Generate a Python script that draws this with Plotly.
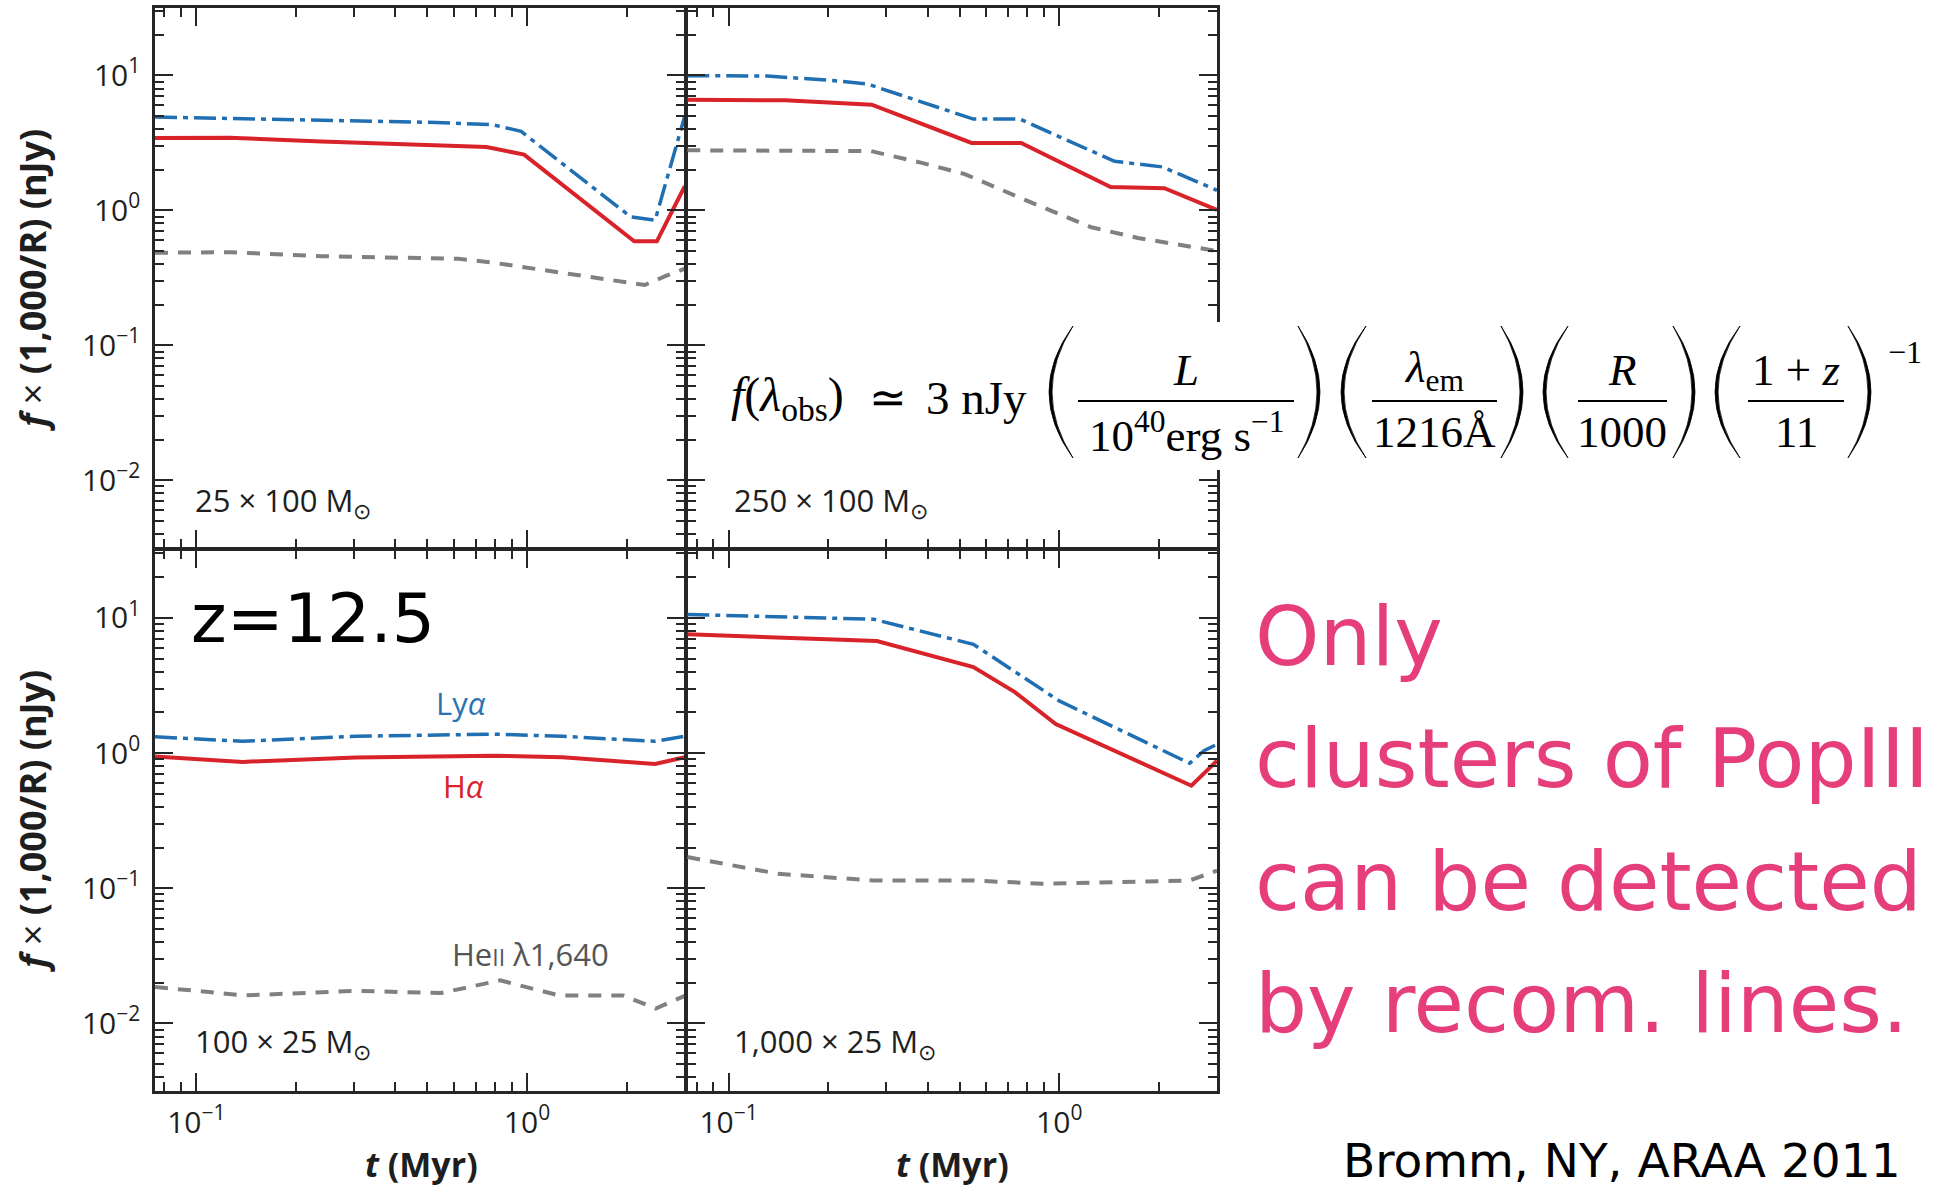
import plotly.graph_objects as go

W, H = 1951, 1190

# ---------------- data: t (Myr) vs f x (1,000/R) (nJy) ----------------
# panel 1 : 25 x 100 Msun
t_lya_1 = [0.075, 0.24, 0.53, 0.79, 0.96, 2.06, 2.44, 3.0]
lya_1 = [4.92, 4.70, 4.49, 4.31, 3.85, 0.895, 0.845, 5.0]
t_ha_1 = [0.075, 0.126, 0.239, 0.406, 0.755, 0.98, 2.11, 2.47, 3.0]
ha_1 = [3.44, 3.46, 3.24, 3.12, 2.95, 2.59, 0.59, 0.59, 1.51]
t_he_1 = [0.075, 0.126, 0.239, 0.62, 0.79, 1.0, 1.63, 2.27, 2.62, 3.0]
he_1 = [0.485, 0.49, 0.458, 0.438, 0.41, 0.376, 0.317, 0.28, 0.326, 0.37]

# panel 2 : 250 x 100 Msun
t_lya_2 = [0.075, 0.131, 0.206, 0.262, 0.55, 0.76, 1.47, 2.05, 3.0]
lya_2 = [9.97, 9.9, 9.17, 8.67, 4.75, 4.75, 2.31, 2.10, 1.41]
t_ha_2 = [0.075, 0.148, 0.271, 0.543, 0.767, 1.43, 2.08, 3.0]
ha_2 = [6.61, 6.55, 6.07, 3.16, 3.16, 1.49, 1.46, 1.01]
t_he_2 = [0.075, 0.27, 0.384, 0.518, 0.805, 1.25, 1.73, 2.73, 3.0]
he_2 = [2.79, 2.75, 2.25, 1.86, 1.17, 0.75, 0.625, 0.52, 0.50]

# panel 3 : 100 x 25 Msun
t_lya_3 = [0.075, 0.138, 0.304, 0.62, 0.79, 1.28, 2.44, 3.0]
lya_3 = [1.32, 1.22, 1.33, 1.38, 1.38, 1.33, 1.22, 1.33]
t_ha_3 = [0.075, 0.138, 0.304, 0.79, 1.28, 2.44, 3.0]
ha_3 = [0.944, 0.86, 0.927, 0.955, 0.93, 0.83, 0.93]
t_he_3 = [0.075, 0.14, 0.3, 0.55, 0.83, 1.25, 1.95, 2.45, 3.0]
he_3 = [0.0186, 0.0161, 0.0174, 0.0168, 0.0208, 0.0161, 0.0161, 0.0129, 0.016]

# panel 4 : 1,000 x 25 Msun
t_lya_4 = [0.075, 0.275, 0.55, 1.0, 2.48, 2.74, 3.0]
lya_4 = [10.6, 9.75, 6.37, 2.43, 0.84, 1.04, 1.16]
t_ha_4 = [0.075, 0.281, 0.55, 0.73, 0.976, 2.51, 3.0]
ha_4 = [7.55, 6.73, 4.33, 2.85, 1.64, 0.573, 0.877]
t_he_4 = [0.075, 0.141, 0.275, 0.55, 0.887, 2.48, 3.0]
he_4 = [0.17, 0.128, 0.114, 0.114, 0.108, 0.114, 0.135]

panel_labels = ["25 × 100 M<sub>⊙</sub>", "250 × 100 M<sub>⊙</sub>",
                "100 × 25 M<sub>⊙</sub>", "1,000 × 25 M<sub>⊙</sub>"]

x_tickvals = [0.1, 1]
x_ticktext = ["10<sup>−1</sup>", "10<sup>0</sup>"]
y_tickvals = [0.01, 0.1, 1, 10]
y_ticktext = ["10<sup>−2</sup>", "10<sup>−1</sup>", "10<sup>0</sup>", "10<sup>1</sup>"]

X_RANGE = [-1.125, 0.4771]   # log10(t)
Y_RANGE = [-2.5, 1.5]        # log10(flux)

# ---------------- helpers: pixel -> paper ----------------
def px(x):
    return x / W


def py(y):
    return 1 - y / H


AX = "#262626"
LW = 2.5
TICK_FONT = dict(family="Open Sans", size=30, color="#1e1e1e")
LYA = dict(color="#1f6fb2", width=3.5, dash="22px,6px,5px,6px")
HA = dict(color="#d8232a", width=4)
HE = dict(color="#808080", width=4, dash="13px,10px")

x_minor = [k * 0.01 for k in (8, 9)] + [k * 0.1 for k in range(2, 10)] + [2.0]
y_minor = [k * 10.0 ** e for e in range(-3, 2) for k in range(2, 10)]

# panel boxes in pixels (shared edges pulled in by half a frame line so that
# neighbouring frame lines fall on top of each other)
X_BOX = [(155, 686 - LW / 2), (686 + LW / 2, 1217)]
Y_BOX = [(8, 549 - LW / 2), (549 + LW / 2, 1091)]

fig = go.Figure()

panels = [
    (t_lya_1, lya_1, t_ha_1, ha_1, t_he_1, he_1),
    (t_lya_2, lya_2, t_ha_2, ha_2, t_he_2, he_2),
    (t_lya_3, lya_3, t_ha_3, ha_3, t_he_3, he_3),
    (t_lya_4, lya_4, t_ha_4, ha_4, t_he_4, he_4),
]

for i, (tl, l, th, h, te, e) in enumerate(panels, start=1):
    xa, ya = f"x{i}" if i > 1 else "x", f"y{i}" if i > 1 else "y"
    fig.add_trace(go.Scatter(x=te, y=e, mode="lines", line=HE, xaxis=xa, yaxis=ya,
                             hoverinfo="skip"))
    fig.add_trace(go.Scatter(x=th, y=h, mode="lines", line=HA, xaxis=xa, yaxis=ya,
                             hoverinfo="skip"))
    fig.add_trace(go.Scatter(x=tl, y=l, mode="lines", line=LYA, xaxis=xa, yaxis=ya,
                             hoverinfo="skip"))

layout = dict(
    width=W, height=H,
    margin=dict(l=0, r=0, t=0, b=0),
    paper_bgcolor="white", plot_bgcolor="white",
    showlegend=False,
)

for i in range(1, 5):
    row, col = (i - 1) // 2, (i - 1) % 2
    xdom = [px(X_BOX[col][0]), px(X_BOX[col][1])]
    ydom = [py(Y_BOX[row][1]), py(Y_BOX[row][0])]
    suffix = "" if i == 1 else str(i)
    common = dict(
        type="log", showline=True, linecolor=AX, linewidth=LW, mirror="allticks",
        ticks="inside", ticklen=18, tickwidth=2, tickcolor=AX,
        showgrid=False, zeroline=False, tickfont=TICK_FONT,
    )
    layout["xaxis" + suffix] = dict(
        common, domain=xdom, range=X_RANGE, anchor="y" + suffix,
        tickmode="array", tickvals=x_tickvals, ticktext=x_ticktext,
        showticklabels=(row == 1), ticklabelstandoff=3,
        minor=dict(tickmode="array", tickvals=x_minor, ticks="inside", ticklen=9,
                   tickwidth=2, tickcolor=AX, showgrid=False),
    )
    layout["yaxis" + suffix] = dict(
        common, domain=ydom, range=Y_RANGE, anchor="x" + suffix,
        tickmode="array", tickvals=y_tickvals, ticktext=y_ticktext,
        showticklabels=(col == 0), ticklabelstandoff=6,
        minor=dict(tickmode="array", tickvals=y_minor, ticks="inside", ticklen=9,
                   tickwidth=2, tickcolor=AX, showgrid=False),
    )

annotations = []


def note(text, x, y, size, color="#1e1e1e", family="Open Sans", xanchor="left",
         yanchor="middle", angle=0):
    annotations.append(dict(
        text=text, x=px(x), y=py(y), xref="paper", yref="paper",
        xanchor=xanchor, yanchor=yanchor, showarrow=False, textangle=angle,
        font=dict(family=family, size=size, color=color),
    ))


# panel labels
label_pos = [(193, 502), (732, 502), (193, 1043), (732, 1043)]
for txt, (x, y) in zip(panel_labels, label_pos):
    note(txt, x, y, 31)

# line labels
note("Ly<i>α</i>", 461, 703, 31, color="#2a74b4", xanchor="center")
note("H<i>α</i>", 463, 786, 31, color="#d8232a", xanchor="center")
note("He<span style='font-size:23px'>II</span> λ1,640", 530, 954, 31,
     color="#555555", xanchor="center")

# axis titles
for yc in (280, 821):
    note("<b><i>f</i></b> × <b>(1,000/R) (nJy)</b>", 32, yc, 36,
         xanchor="center", angle=-90)
for xc in (421, 952):
    note("<b><i>t</i> (Myr)</b>", xc, 1164, 34, xanchor="center")

# redshift and remarks
note("z=12.5", 189, 618, 68, color="black", family="DejaVu Sans")
PINK = "#e63e7b"
for txt, yc in zip(["Only", "clusters of PopIII", "can be detected", "by recom. lines."],
                   [636, 758, 881, 1003]):
    note(txt, 1253, yc, 82, color=PINK, family="DejaVu Sans")
note("Bromm, NY, ARAA 2011", 1341, 1160, 47, color="black", family="DejaVu Sans")

# flux formula
FS = 45
SERIF = "Liberation Serif"
formula_parts = [
    ("<i>f</i>(<i>λ</i><sub>obs</sub>)", 787, 398, 48),
    ("≃", 888, 398, FS),
    ("3 nJy", 976, 398, 47),
    ("<i>L</i>", 1186, 370, FS),
    ("10<sup>40</sup>erg s<sup>−1</sup>", 1186, 432, FS),
    ("<i>λ</i><sub>em</sub>", 1434, 370, FS),
    ("1216Å", 1434, 432, FS),
    ("<i>R</i>", 1622, 370, FS),
    ("1000", 1622, 432, FS),
    ("1 + <i>z</i>", 1796, 370, FS),
    ("11", 1796, 432, FS),
    ("−1", 1905, 352, 32),
]
for txt, x, y, s in formula_parts:
    note(txt, x, y, s, color="black", family=SERIF, xanchor="center")

shapes = [
    # white panel behind the formula
    dict(type="rect", xref="paper", yref="paper", x0=px(708), x1=px(1951),
         y0=py(470), y1=py(322), fillcolor="white", line=dict(width=0), layer="above"),
]

# fraction bars
for x0, x1 in [(1078, 1294), (1372, 1497), (1578, 1667), (1748, 1844)]:
    shapes.append(dict(type="line", xref="paper", yref="paper", x0=px(x0), x1=px(x1),
                       y0=py(401), y1=py(401), line=dict(color="black", width=2),
                       layer="above"))


def paren(x0, x1, y0, y1, left=True, thick=3.0):
    ym = (y0 + y1) / 2
    tip, belly = (x1, x0) if left else (x0, x1)
    inner = belly + thick if left else belly - thick
    c_out = 2 * belly - tip
    c_in = 2 * inner - tip
    path = (f"M {px(tip)},{py(y0)} Q {px(c_out)},{py(ym)} {px(tip)},{py(y1)} "
            f"Q {px(c_in)},{py(ym)} {px(tip)},{py(y0)} Z")
    return dict(type="path", xref="paper", yref="paper", path=path,
                fillcolor="black", line=dict(color="black", width=0.8), layer="above")


for (a, b, lft) in [(1049, 1073, True), (1298, 1320, False), (1341, 1366, True),
                    (1501, 1523, False), (1543, 1568, True), (1673, 1695, False),
                    (1715, 1740, True), (1848, 1871, False)]:
    shapes.append(paren(a, b, 326, 458, left=lft))

layout["annotations"] = annotations
layout["shapes"] = shapes
fig.update_layout(**layout)

fig.write_html("out.html")
